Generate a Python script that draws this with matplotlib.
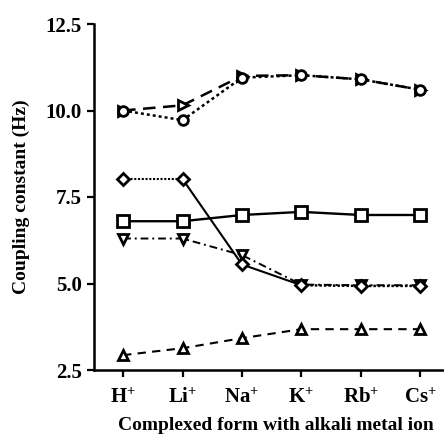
import matplotlib
matplotlib.use("Agg")
from matplotlib import pyplot as plt

# complexed forms along the x axis
ions = ["H$^{+}$", "Li$^{+}$", "Na$^{+}$", "K$^{+}$", "Rb$^{+}$", "Cs$^{+}$"]
x = list(range(len(ions)))

# coupling constants (Hz) for each series
j_circle = [10.0, 9.72, 10.95, 11.02, 10.9, 10.6]
j_tri_right = [10.0, 10.15, 11.0, 11.02, 10.9, 10.6]
j_diamond = [8.02, 8.02, 5.55, 4.95, 4.93, 4.93]
j_square = [6.8, 6.8, 6.98, 7.07, 6.98, 6.98]
j_tri_down = [6.3, 6.3, 5.82, 4.97, 4.95, 4.95]
j_tri_up = [2.93, 3.13, 3.42, 3.68, 3.68, 3.68]

plt.rcParams["font.family"] = "Liberation Serif"
plt.rcParams["mathtext.fontset"] = "custom"
plt.rcParams["mathtext.rm"] = "Liberation Serif:bold"
plt.rcParams["mathtext.it"] = "Liberation Serif:bold"

fig = plt.figure(figsize=(4.44, 4.41), dpi=100)
ax = fig.add_axes([94 / 444, 1 - 370 / 441, 1 - 94 / 444, (370 - 24) / 441])

mk = dict(color="black", markerfacecolor="white", markeredgecolor="black",
          markeredgewidth=2.0)

# upper pair: dashed right-pointing triangles under dotted circles
ax.plot(x, j_tri_right, linestyle=(0, (5, 3)), lw=1.8, marker=">",
        markersize=6.5, zorder=3, **mk)
ax.plot(x, j_circle, linestyle=(0, (1.2, 1.2)), lw=1.8, marker="o",
        markersize=7, zorder=4, **mk)

# inverted triangles sit under the diamonds where they meet
ax.plot(x, j_tri_down, linestyle=(0, (4, 2, 1, 2)), lw=1.4, marker="v",
        markersize=7, zorder=3, **mk)

# diamonds: dotted plateau, solid drop, dotted tail
ax.plot(x[:2], j_diamond[:2], linestyle=(0, (1, 0.8)), lw=1.5, color="black")
ax.plot(x[1:4], j_diamond[1:4], linestyle="-", lw=1.5, color="black")
ax.plot(x[3:], j_diamond[3:], linestyle=(0, (1, 0.8)), lw=1.8, color="black")
ax.plot(x, j_diamond, linestyle="none", marker="D", markersize=6.5,
        zorder=4, **mk)

ax.plot(x, j_square, linestyle="-", lw=1.7, marker="s", markersize=9,
        zorder=3, **mk)
ax.plot(x, j_tri_up, linestyle=(0, (4, 3)), lw=1.5, marker="^",
        markersize=7, zorder=3, **mk)

ax.set_xlim(-0.49, 5.40)
ax.set_ylim(2.5, 12.5)
ax.set_xticks(x)
ax.set_xticklabels(ions)
ax.set_yticks([2.5, 5.0, 7.5, 10.0, 12.5])
ax.set_yticklabels(["2.5", "5.0", "7.5", "10.0", "12.5"])

for side in ("top", "right"):
    ax.spines[side].set_visible(False)
for side in ("left", "bottom"):
    ax.spines[side].set_linewidth(1.8)

ax.tick_params(direction="out", length=5, width=1.6, labelsize=15, pad=4)
ax.tick_params(axis="x", pad=8)
for lab in ax.get_xticklabels() + ax.get_yticklabels():
    lab.set_fontweight("bold")

ax.set_xlabel("Complexed form with alkali metal ion", fontsize=14,
              fontweight="bold", labelpad=6)
ax.xaxis.set_label_coords(0.52, -0.135)
ax.set_ylabel("Coupling constant (Hz)", fontsize=14, fontweight="bold",
              labelpad=11)

fig.savefig("out.png", dpi=100)
